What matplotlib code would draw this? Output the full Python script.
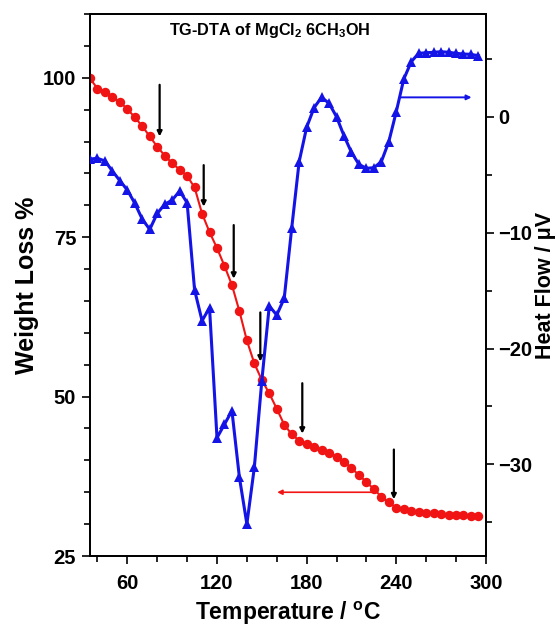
import matplotlib
matplotlib.use("Agg")
import matplotlib.pyplot as plt
import numpy as np

plt.rcParams['font.family'] = ['Liberation Sans', 'DejaVu Sans']
plt.rcParams['font.weight'] = 'bold'
plt.rcParams['mathtext.fontset'] = 'custom'
plt.rcParams['mathtext.rm'] = 'Liberation Sans:bold'
plt.rcParams['mathtext.bf'] = 'Liberation Sans:bold'
plt.rcParams['mathtext.it'] = 'Liberation Sans:bold'
plt.rcParams['mathtext.default'] = 'bf'

# Temperatures (°C)
temperature = list(range(35, 300, 5))

# TG: weight loss %
weight_loss = [99.9, 98.3, 97.8, 97.0, 96.2, 95.1, 93.8, 92.4, 90.8, 89.2,
               87.8, 86.6, 85.6, 84.6, 82.8, 78.7, 75.8, 73.3, 70.5, 67.5,
               63.4, 58.8, 55.2, 52.6, 50.5, 48.1, 45.6, 44.1, 43.1, 42.5,
               42.1, 41.6, 41.2, 40.6, 39.8, 38.8, 37.7, 36.6, 35.5, 34.3,
               33.4, 32.6, 32.4, 32.1, 31.9, 31.8, 31.7, 31.6, 31.5, 31.4,
               31.4, 31.3, 31.3]

# DTA: heat flow µV
heat_flow = [-3.65, -3.59, -3.82, -4.69, -5.52, -6.33, -7.47, -8.85, -9.72, -8.34,
             -7.56, -7.19, -6.41, -7.42, -14.95, -17.6, -16.48, -27.7, -26.54, -25.37,
             -31.11, -35.14, -30.25, -22.78, -16.33, -17.11, -15.67, -9.63, -3.88, -0.92,
             0.78, 1.67, 1.16, 0.0, -1.64, -3.07, -4.11, -4.45, -4.40, -3.88,
             -2.16, 0.43, 3.23, 4.74, 5.47, 5.52, 5.56, 5.61, 5.56, 5.47,
             5.41, 5.38, 5.26]

# Step arrows on TG curve (temperature, top, bottom in weight %)
arrow_T = [81.6, 111.1, 131.2, 149.0, 177.1, 238.4]
arrow_top = [98.9, 86.3, 76.9, 63.2, 52.1, 41.7]
arrow_bottom = [90.8, 79.8, 68.5, 55.5, 44.2, 33.9]

x_ticks = [60, 120, 180, 240, 300]
left_ticks = [25, 50, 75, 100]
right_ticks = [-30, -20, -10, 0]

fig = plt.figure(figsize=(5.56, 6.26), dpi=100)
ax = fig.add_axes([0.1619, 0.1118, 0.712, 0.8658])
ax2 = ax.twinx()

red = '#f01414'
blue = '#1414e6'

ax.plot(temperature, weight_loss, '-o', color=red, lw=1.5, ms=6.8,
        markeredgewidth=0, zorder=3)
ax2.plot(temperature, heat_flow, '-^', color=blue, lw=2.2, ms=7.2,
         markeredgewidth=0, zorder=3)

ax.set_xlim(35, 300)
ax.set_ylim(25, 110)
ax2.set_ylim(-37.9, 8.86)

ax.set_xticks(x_ticks)
ax.set_xticks(np.arange(40, 300, 20), minor=True)
ax.set_yticks(left_ticks)
ax.set_yticks(np.arange(25, 111, 5), minor=True)
ax2.set_yticks(right_ticks)
ax2.set_yticks(np.arange(-35, 9, 5), minor=True)

for a in (ax, ax2):
    a.tick_params(which='major', direction='out', length=6, width=1.2,
                  labelsize=14.5, pad=4)
    a.tick_params(which='minor', direction='out', length=4, width=1.2)
    for sp in a.spines.values():
        sp.set_linewidth(1.3)
ax.tick_params(axis='x', which='major', pad=7)
ax2.tick_params(axis='y', which='major', pad=3)

ax.set_xlabel(r'Temperature / $^{\mathbf{o}}$C', fontsize=16.5, fontweight='bold', labelpad=5)
ax.set_ylabel('Weight Loss %', fontsize=18, fontweight='bold', labelpad=3)
ax2.set_ylabel('Heat Flow / \u03bcV', fontsize=15.5, fontweight='bold', labelpad=2)

ax.text(0.455, 0.97, r'TG-DTA of MgCl$_{\mathbf{2}}$ 6CH$_{\mathbf{3}}$OH',
        transform=ax.transAxes, ha='center', va='center', fontsize=11.7,
        fontweight='bold')

for t, y0, y1 in zip(arrow_T, arrow_top, arrow_bottom):
    ax.annotate('', xy=(t, y1), xytext=(t, y0),
                arrowprops=dict(arrowstyle='-|>', color='black', lw=1.6,
                                mutation_scale=7, shrinkA=0, shrinkB=0),
                zorder=4)

ax.annotate('', xy=(160.3, 35.0), xytext=(225.1, 35.0),
            arrowprops=dict(arrowstyle='-|>', color=red, lw=1.2,
                            mutation_scale=7, shrinkA=0, shrinkB=0))
ax2.annotate('', xy=(290.4, 1.67), xytext=(242.9, 1.67),
             arrowprops=dict(arrowstyle='-|>', color=blue, lw=1.4,
                             mutation_scale=7, shrinkA=0, shrinkB=0))

fig.savefig('out.png', dpi=100)
